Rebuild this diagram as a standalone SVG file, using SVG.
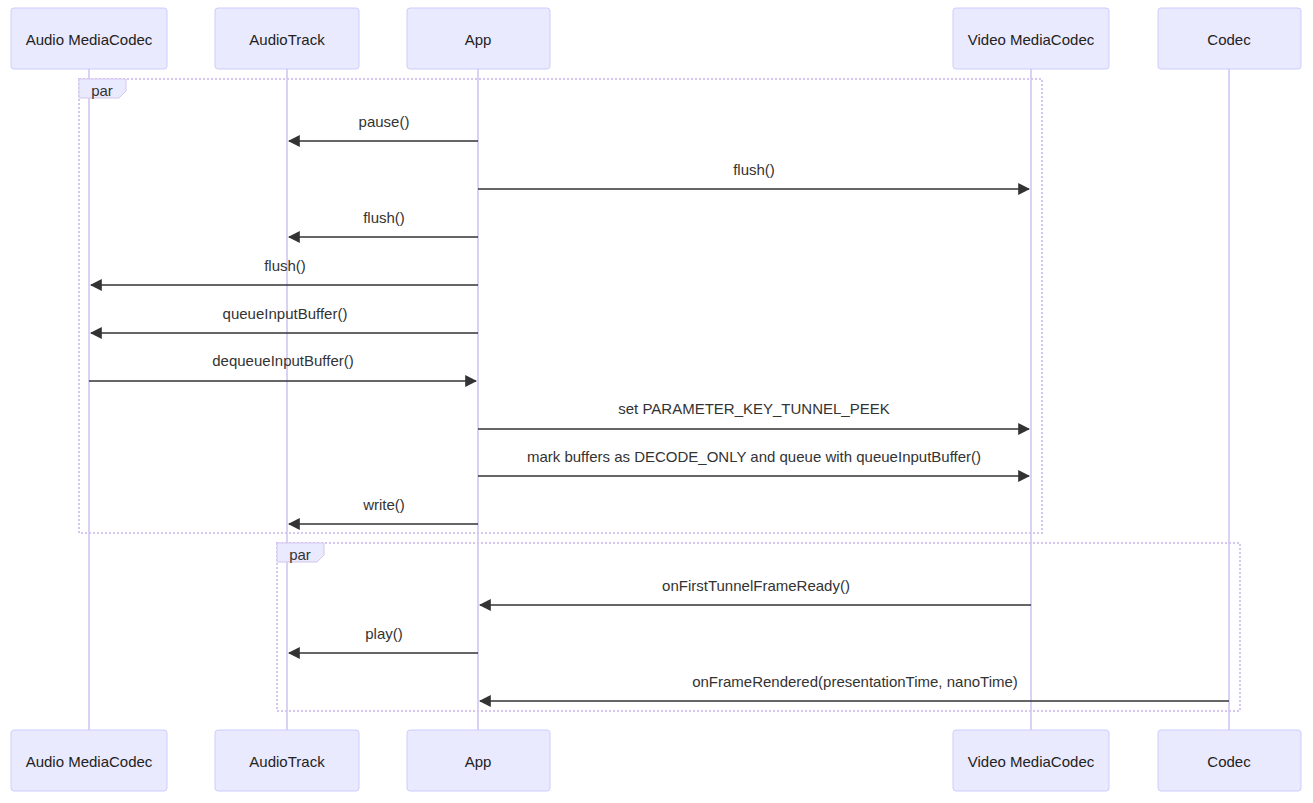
<svg xmlns="http://www.w3.org/2000/svg" width="1313" height="803" viewBox="0 0 1313 803">
<style>
.actor{fill:#eaeaff;stroke:#ccccff;stroke-width:1}
.life{stroke:#d9d2f5;stroke-width:2}
.t{font-family:"Liberation Sans",Arial,sans-serif;font-size:15px;fill:#222;text-anchor:middle}
.m{font-family:"Liberation Sans",Arial,sans-serif;font-size:15px;fill:#333;text-anchor:middle}
.msg{stroke:#333;stroke-width:1.5;fill:none;marker-end:url(#ah)}
.loop{fill:none;stroke:#d3c6ef;stroke-width:2;stroke-dasharray:2 2}
.tab{fill:#eaeaff;stroke:#d3c6ef;stroke-width:1}
</style>
<defs><marker id="ah" viewBox="0 0 10 10" refX="9" refY="5" markerWidth="8" markerHeight="8" orient="auto"><path d="M0,0L10,5L0,10z" fill="#333"/></marker></defs>
<rect width="1313" height="803" fill="#fff"/>
<g id="lifelines">
<line class="life" x1="89" y1="69" x2="89" y2="730"/>
<line class="life" x1="287" y1="69" x2="287" y2="730"/>
<line class="life" x1="478" y1="69" x2="478" y2="730"/>
<line class="life" x1="1031" y1="69" x2="1031" y2="730"/>
<line class="life" x1="1229" y1="69" x2="1229" y2="730"/>
</g>
<g id="par1"><rect class="loop" x="79" y="79" width="963" height="454"/><path class="tab" d="M79,79H126V91L119,98H79Z"/><text class="m" x="102" y="96">par</text></g>
<g id="par2"><rect class="loop" x="277" y="543" width="963" height="168"/><path class="tab" d="M277,543H324V555L317,562H277Z"/><text class="m" x="300" y="560">par</text></g>
<g id="actors-top">
<g id="a1"><rect class="actor" x="11" y="8" width="156" height="61" rx="3"/><text class="t" x="89" y="45">Audio MediaCodec</text></g>
<g id="a2"><rect class="actor" x="215" y="8" width="144" height="61" rx="3"/><text class="t" x="287" y="45">AudioTrack</text></g>
<g id="a3"><rect class="actor" x="407" y="8" width="143" height="61" rx="3"/><text class="t" x="478" y="45">App</text></g>
<g id="a4"><rect class="actor" x="953" y="8" width="156" height="61" rx="3"/><text class="t" x="1031" y="45">Video MediaCodec</text></g>
<g id="a5"><rect class="actor" x="1158" y="8" width="143" height="61" rx="3"/><text class="t" x="1229" y="45">Codec</text></g>
</g>
<g id="actors-bottom">
<g id="b1"><rect class="actor" x="11" y="730" width="156" height="61" rx="3"/><text class="t" x="89" y="767">Audio MediaCodec</text></g>
<g id="b2"><rect class="actor" x="215" y="730" width="144" height="61" rx="3"/><text class="t" x="287" y="767">AudioTrack</text></g>
<g id="b3"><rect class="actor" x="407" y="730" width="143" height="61" rx="3"/><text class="t" x="478" y="767">App</text></g>
<g id="b4"><rect class="actor" x="953" y="730" width="156" height="61" rx="3"/><text class="t" x="1031" y="767">Video MediaCodec</text></g>
<g id="b5"><rect class="actor" x="1158" y="730" width="143" height="61" rx="3"/><text class="t" x="1229" y="767">Codec</text></g>
</g>
<g id="connectors">
<line class="msg" x1="478" y1="141" x2="289" y2="141"/><text class="m" x="384" y="127">pause()</text>
<line class="msg" x1="478" y1="189" x2="1029" y2="189"/><text class="m" x="754" y="175">flush()</text>
<line class="msg" x1="478" y1="237" x2="289" y2="237"/><text class="m" x="384" y="223">flush()</text>
<line class="msg" x1="478" y1="285" x2="91" y2="285"/><text class="m" x="285" y="271">flush()</text>
<line class="msg" x1="478" y1="333" x2="91" y2="333"/><text class="m" x="285" y="319">queueInputBuffer()</text>
<line class="msg" x1="89" y1="381" x2="476" y2="381"/><text class="m" x="283" y="366">dequeueInputBuffer()</text>
<line class="msg" x1="478" y1="429" x2="1029" y2="429"/><text class="m" x="754" y="414">set PARAMETER_KEY_TUNNEL_PEEK</text>
<line class="msg" x1="478" y1="476" x2="1029" y2="476"/><text class="m" x="754" y="462">mark buffers as DECODE_ONLY and queue with queueInputBuffer()</text>
<line class="msg" x1="478" y1="524" x2="289" y2="524"/><text class="m" x="384" y="510">write()</text>
<line class="msg" x1="1031" y1="605" x2="480" y2="605"/><text class="m" x="756" y="591">onFirstTunnelFrameReady()</text>
<line class="msg" x1="478" y1="653" x2="289" y2="653"/><text class="m" x="384" y="639">play()</text>
<line class="msg" x1="1229" y1="701" x2="480" y2="701"/><text class="m" x="855" y="687">onFrameRendered(presentationTime, nanoTime)</text>
</g>
</svg>
